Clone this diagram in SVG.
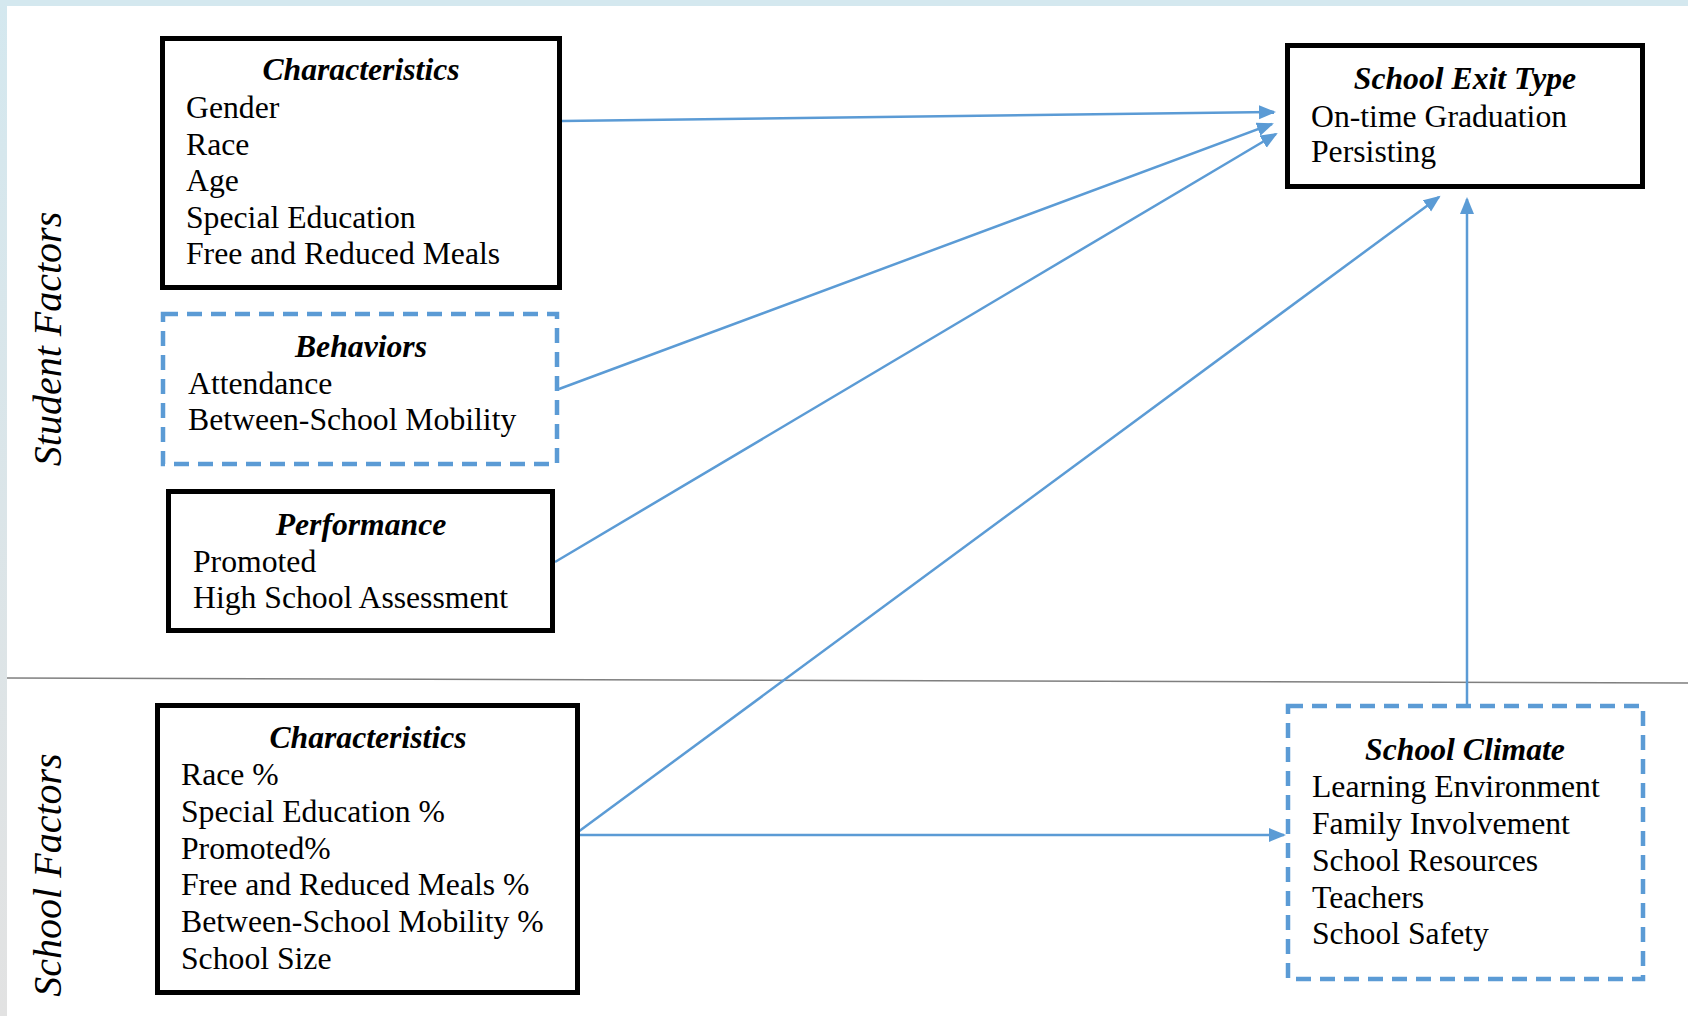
<svg xmlns="http://www.w3.org/2000/svg" width="1688" height="1016" viewBox="0 0 1688 1016">
<defs>
<style>
.solid{fill:#fff;stroke:#000;stroke-width:5}
.dash{fill:#fff;stroke:#5B9BD5;stroke-width:4.5;stroke-dasharray:15 9}
.t{font-family:"Liberation Serif","Times New Roman",serif;font-size:31.7px;fill:#000}
.h{font-weight:bold;font-style:italic;text-anchor:middle}
.side{font-family:"Liberation Serif","Times New Roman",serif;font-size:40px;font-style:italic;fill:#000;text-anchor:middle}
.c{stroke:#5B9BD5;stroke-width:2.5;fill:none;marker-end:url(#ah)}
</style>
<linearGradient id="lg" x1="0" y1="0" x2="0" y2="1">
<stop offset="0" stop-color="#D4E8EF"/>
<stop offset="1" stop-color="#E2E2E2"/>
</linearGradient>
<marker id="ah" markerUnits="userSpaceOnUse" markerWidth="20" markerHeight="16" refX="15" refY="7" orient="auto">
<path d="M0,0 L17,7 L0,14 Z" fill="#5B9BD5"/>
</marker>
</defs>
<rect x="0" y="0" width="1688" height="1016" fill="#fff"/>
<rect x="0" y="0" width="1688" height="6" fill="#D4E8EF"/>
<rect x="0" y="0" width="7" height="1016" fill="url(#lg)"/>
<line x1="7" y1="678" x2="1688" y2="683" stroke="#7f7f7f" stroke-width="1.5"/>

<text class="side" transform="translate(61,339) rotate(-90)">Student Factors</text>
<text class="side" transform="translate(61,875) rotate(-90)">School Factors</text>

<g id="connectors">
<line class="c" x1="562" y1="121" x2="1274" y2="112"/>
<line class="c" x1="559" y1="389" x2="1272" y2="124"/>
<line class="c" x1="555" y1="562" x2="1276" y2="134"/>
<line class="c" x1="578" y1="832" x2="1439" y2="197"/>
<line class="c" x1="578" y1="835" x2="1284" y2="835"/>
<line class="c" x1="1467" y1="704" x2="1467" y2="199"/>
</g>

<g id="student-characteristics">
<rect class="solid" x="162.5" y="38.5" width="397" height="249"/>
<text class="t h" x="361" y="80">Characteristics</text>
<text class="t" x="186" y="118">Gender</text>
<text class="t" x="186" y="155">Race</text>
<text class="t" x="186" y="191">Age</text>
<text class="t" x="186" y="228">Special Education</text>
<text class="t" x="186" y="264">Free and Reduced Meals</text>
</g>

<g id="behaviors">
<rect class="dash" x="163" y="314" width="394" height="150"/>
<text class="t h" x="361" y="357">Behaviors</text>
<text class="t" x="188" y="394">Attendance</text>
<text class="t" x="188" y="430">Between-School Mobility</text>
</g>

<g id="performance">
<rect class="solid" x="168.5" y="491.5" width="384" height="139"/>
<text class="t h" x="361" y="535">Performance</text>
<text class="t" x="193" y="572">Promoted</text>
<text class="t" x="193" y="608">High School Assessment</text>
</g>

<g id="school-characteristics">
<rect class="solid" x="157.5" y="705.5" width="420" height="287"/>
<text class="t h" x="368" y="748">Characteristics</text>
<text class="t" x="181" y="785">Race %</text>
<text class="t" x="181" y="822">Special Education %</text>
<text class="t" x="181" y="859">Promoted%</text>
<text class="t" x="181" y="895">Free and Reduced Meals %</text>
<text class="t" x="181" y="932">Between-School Mobility %</text>
<text class="t" x="181" y="969">School Size</text>
</g>

<g id="school-exit-type">
<rect class="solid" x="1287.5" y="45.5" width="355" height="141"/>
<text class="t h" x="1465" y="89">School Exit Type</text>
<text class="t" x="1311" y="127">On-time Graduation</text>
<text class="t" x="1311" y="162">Persisting</text>
</g>

<g id="school-climate">
<rect class="dash" x="1288" y="706" width="355" height="273"/>
<text class="t h" x="1465" y="760">School Climate</text>
<text class="t" x="1312" y="797">Learning Environment</text>
<text class="t" x="1312" y="834">Family Involvement</text>
<text class="t" x="1312" y="871">School Resources</text>
<text class="t" x="1312" y="908">Teachers</text>
<text class="t" x="1312" y="944">School Safety</text>
</g>
</svg>
